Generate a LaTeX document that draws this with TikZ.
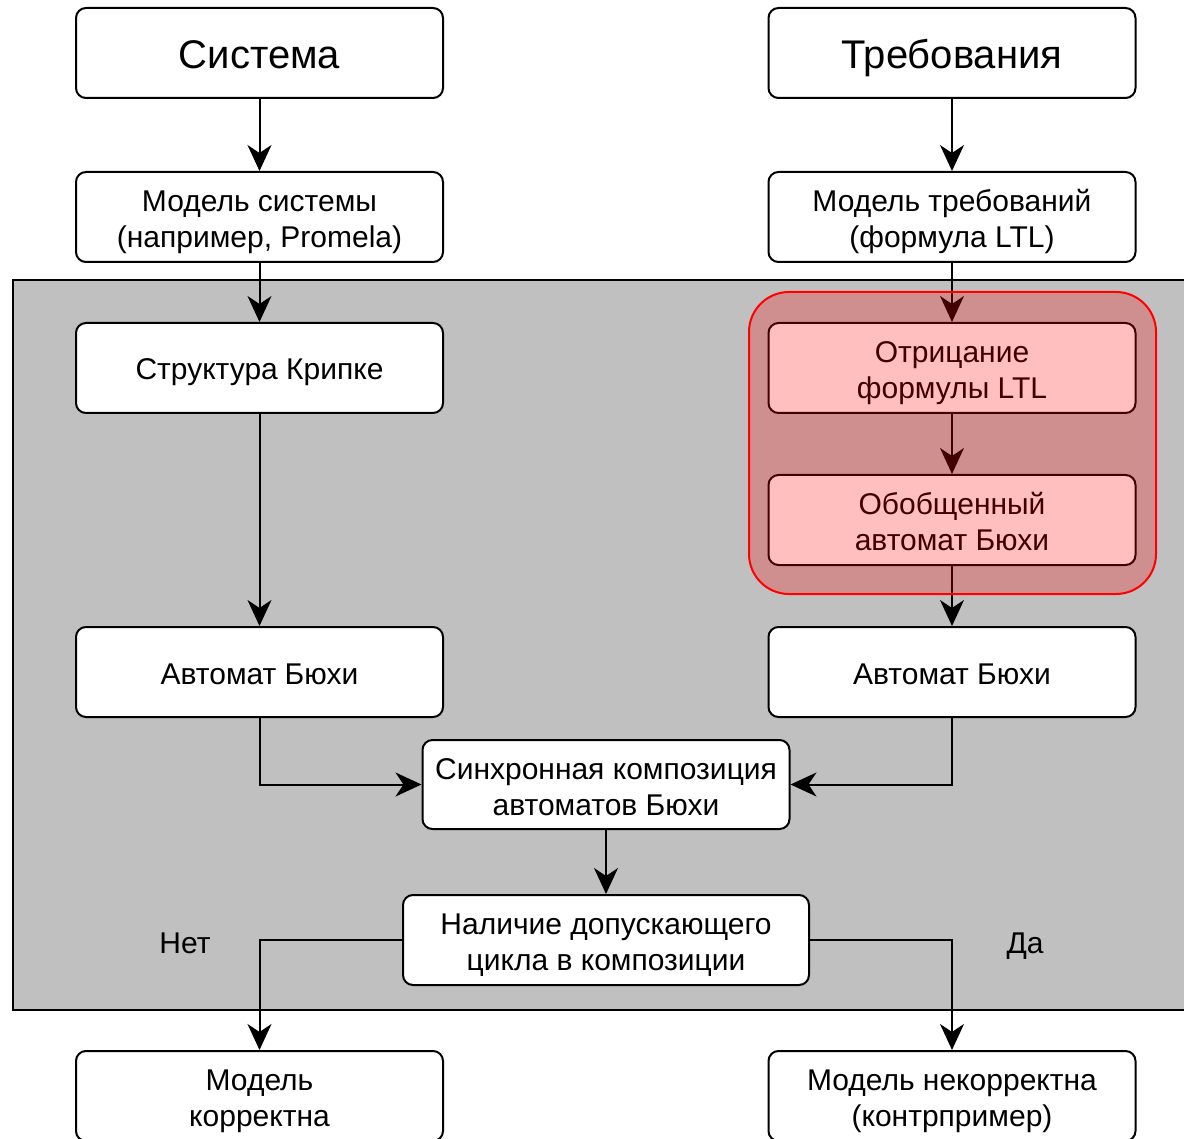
\documentclass[tikz,border=0pt]{standalone}
\usepackage{fontspec}
\setmainfont{Liberation Sans}
\usetikzlibrary{arrows.meta}
% invisible rule that gives the first line of a two-line label a fixed height
\newcommand\hstrut{\rule{0pt}{31pt}}
\begin{document}
\begin{tikzpicture}[x=1pt,y=-1pt,
  % fixed line metrics so every one-line label sits at the same height in its box
  struts/.style 2 args={execute at begin node={\rule{0pt}{#1}},
    execute at end node={\rule[-#2]{0pt}{#2}}},
  box/.style={draw=black, fill=white, line width=2pt, rounded corners=10pt,
    minimum width=367pt, minimum height=90pt, inner sep=0pt, align=center,
    font=\fontsize{30}{36}\selectfont, struts={30pt}{6pt}},
  bigbox/.style={box, font=\fontsize{40}{46}\selectfont, struts={40pt}{8pt}},
  flow/.style={line width=2pt, -{Stealth[length=26pt, width=24pt, inset=8pt]}},
  lbl/.style={font=\fontsize{30}{36}\selectfont, inner sep=0pt, struts={30pt}{6pt}}]
\clip (0,0) rectangle (1184,1139);
\fill[white] (0,0) rectangle (1184,1139);

% model-checking region
\draw[line width=2pt, fill={rgb,255:red,192;green,192;blue,192}] (13,280) rectangle (1200,1010);

% nodes
\node[bigbox] (sys) at (259.5,53) {Система};
\node[bigbox] (req) at (952,53) {Требования};
\node[box] (msys) at (259.5,217) {\hstrut Модель системы\\(например, Promela)};
\node[box] (mreq) at (952,217) {\hstrut Модель требований\\(формула LTL)};
\node[box] (krip) at (259.5,368) {Структура Крипке};
\node[box] (neg) at (952,368) {\hstrut Отрицание\\формулы LTL};
\node[box] (gba) at (952,520) {\hstrut Обобщенный\\автомат Бюхи};
\node[box] (bL) at (259.5,672) {Автомат Бюхи};
\node[box] (bR) at (952,672) {Автомат Бюхи};
\node[box, minimum height=89pt] (sync) at (606,784.5) {\hstrut Синхронная композиция\\автоматов Бюхи};
\node[box, minimum width=406pt] (cyc) at (606,940) {\hstrut Наличие допускающего\\цикла в композиции};
\node[box] (ok) at (259.5,1096) {\hstrut Модель\\корректна};
\node[box] (bad) at (952,1096) {\hstrut Модель некорректна\\(контрпример)};

% connectors
\draw[flow] (sys) -- (msys);
\draw[flow] (msys) -- (krip);
\draw[flow] (krip) -- (bL);
\draw[flow] (req) -- (mreq);
\draw[flow] (mreq) -- (neg);
\draw[flow] (neg) -- (gba);
\draw[flow] (gba) -- (bR);
\draw[flow] (bL.south) |- (sync.west);
\draw[flow] (bR.south) |- (sync.east);
\draw[flow] (sync) -- (cyc);
\draw[flow] (cyc.west) -| (ok.north);
\draw[flow] (cyc.east) -| (bad.north);

\node[lbl] (no) at (185,941) {Нет};
\node[lbl] (yes) at (1025,941) {Да};

% translation of the formula, highlighted
\draw[draw=red, line width=2pt, fill=red, fill opacity=0.25, rounded corners=40pt]
  (749,292) rectangle (1156,594);
\end{tikzpicture}
\end{document}
